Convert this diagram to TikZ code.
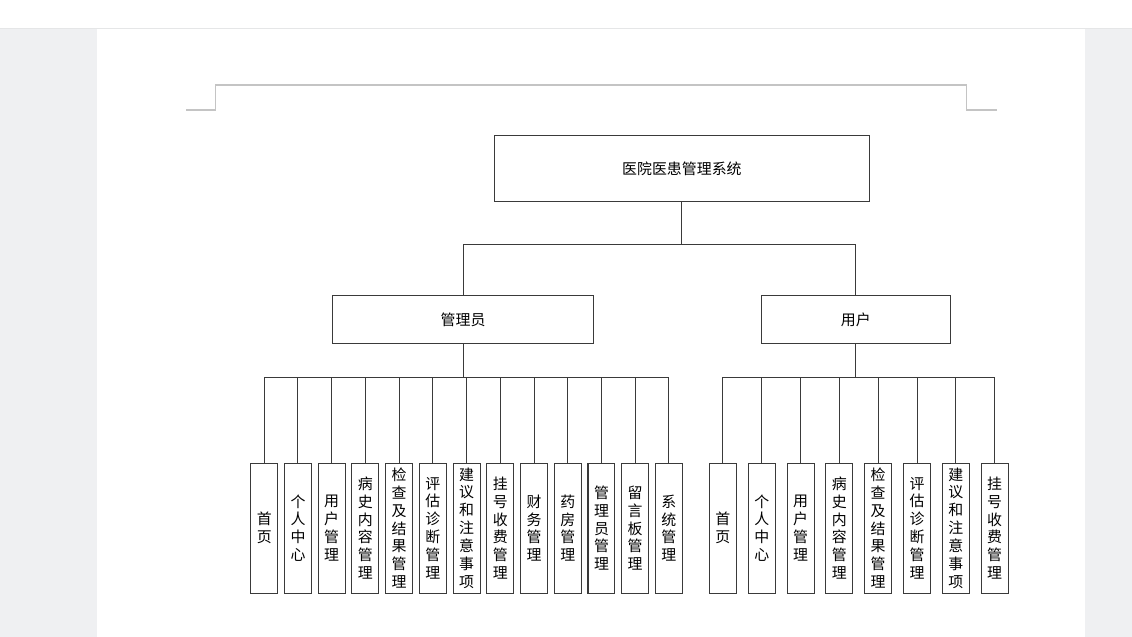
\documentclass[tikz,border=0pt]{standalone}
\usepackage{fontspec}
\setmainfont{Noto Sans CJK SC}
\XeTeXlinebreaklocale "zh"
\XeTeXlinebreakskip=0pt plus 1pt
\usepackage{tikz}
\usepackage{xcolor}
\usetikzlibrary{positioning, calc}

\definecolor{deskgray}{HTML}{EFF0F2}
\definecolor{markgray}{HTML}{C4C4C4}
\definecolor{boxline}{HTML}{3A3A3A}

\tikzset{
    box/.style={draw=boxline, line width=0.6pt, fill=white, inner sep=0pt,
        font=\fontsize{8.5}{10.2}\selectfont},
    leaf/.style={box, minimum width=0.54cm, minimum height=2.6cm,
        text width=8.5pt, align=center},
    link/.style={draw=boxline, line width=0.6pt},
    cornermark/.style={draw=markgray, line width=0.8pt}
}

\begin{document}
\begin{tikzpicture}[x=0.02cm, y=-0.02cm]
% page and desk
\fill[deskgray] (0,0) rectangle (1132,637);
\fill[white] (97,28) rectangle (1085,637);
\fill[white] (0,0) rectangle (1132,28);
\draw[deskgray!80!black!40, line width=0.5pt] (0,28) -- (1132,28);
\useasboundingbox (0,0) rectangle (1132,637);

% header corner marks
\draw[cornermark] (186,110) -- (215,110) -- (215,85) -- (967,85) -- (967,110) -- (997,110);

% top levels
\node[box, minimum width=7.52cm, minimum height=1.32cm] (sys) at (682,169) {医院医患管理系统};
\node[box, minimum width=5.24cm, minimum height=0.96cm] (admin) at (463,320) {管理员};
\node[box, minimum width=3.78cm, minimum height=0.96cm] (user) at (856,320) {用户};

\coordinate (fork) at (682,245);
\draw[link] (sys.south) -- (fork);
\draw[link] (fork) -| (admin.north);
\draw[link] (fork) -| (user.north);

% admin modules
\foreach \t [count=\i] in {首页,个人中心,用户管理,病史内容管理,检查及结果管理,评估诊断管理,建议和注意事项,挂号收费管理,财务管理,药房管理,管理员管理,留言板管理,系统管理} {
    \node[leaf] (a\i) at ({264+(\i-1)*33.75},528.5) {\t};
    \draw[link] (admin.south) -- ++(0,33) -| (a\i.north);
}

% user modules
\foreach \t [count=\i] in {首页,个人中心,用户管理,病史内容管理,检查及结果管理,评估诊断管理,建议和注意事项,挂号收费管理} {
    \node[leaf] (u\i) at ({723+(\i-1)*38.86},528.5) {\t};
    \draw[link] (user.south) -- ++(0,33) -| (u\i.north);
}
\end{tikzpicture}
\end{document}
